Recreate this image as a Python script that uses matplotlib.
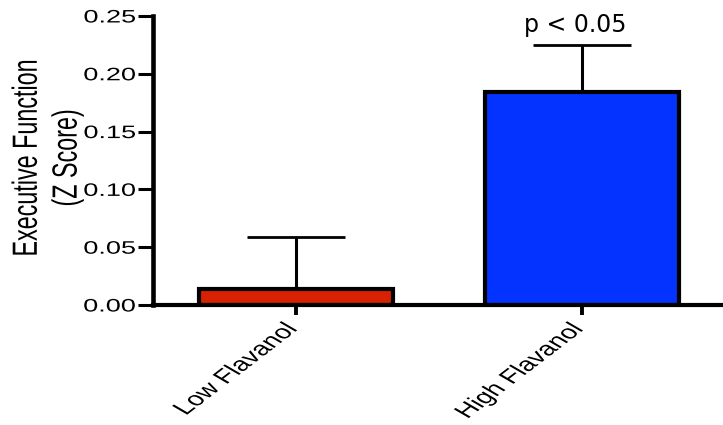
import matplotlib
matplotlib.use('Agg')
import matplotlib.pyplot as plt
import numpy as np
from matplotlib import patheffects
from matplotlib.transforms import Affine2D, ScaledTranslation

# Data
groups = ['Low Flavanol', 'High Flavanol']
means = [0.014, 0.184]
err_upper = [0.045, 0.041]
bar_colors = ['#D82100', '#0433FF']
y_ticks = [0.00, 0.05, 0.10, 0.15, 0.20, 0.25]
p_label = 'p < 0.05'

# The reference image is widened sideways, so its axis text looks stretched
STRETCH = 1.5


class Widen(patheffects.AbstractPathEffect):
    """Stretch the drawn glyphs horizontally about a point of their bbox"""
    def __init__(self, sx=STRETCH, fx=0.5):
        super().__init__()
        self.sx = sx
        self.fx = fx

    def draw_path(self, renderer, gc, tpath, affine, rgbFace=None):
        ext = tpath.get_extents(affine)
        x0 = ext.x0 + self.fx * ext.width
        wide = affine + Affine2D().translate(-x0, 0).scale(self.sx, 1).translate(x0, 0)
        renderer.draw_path(gc, tpath, wide, rgbFace)


plt.rcParams['font.family'] = ['Liberation Sans', 'DejaVu Sans']

fig = plt.figure(figsize=(7.23, 4.25), dpi=100)
ax = fig.add_axes([0.2116, 0.2824, 0.7912, 0.68])

x = np.arange(len(groups))
ax.errorbar(x, means, yerr=[[0, 0], err_upper], fmt='none', ecolor='black',
            elinewidth=2.2, capsize=35.5, capthick=2, zorder=2)
ax.bar(x, means, width=0.68, color=bar_colors, edgecolor='black',
       linewidth=3, zorder=3)

ax.set_xlim(-0.5, 1.5)
ax.set_ylim(0, 0.25)

for side in ('top', 'right'):
    ax.spines[side].set_visible(False)
ax.spines['left'].set_linewidth(3.3)
ax.spines['bottom'].set_linewidth(3)
ax.spines['bottom'].set_zorder(4)

ax.set_yticks(y_ticks, [f'{v:.2f}' for v in y_ticks])
ax.set_xticks(x, groups, rotation=49, ha='right', va='top')
ax.tick_params(axis='y', length=10.5, width=2.2, pad=2, labelsize=13)
ax.tick_params(axis='x', length=7, width=2.8, pad=4, labelsize=14)

shift = ScaledTranslation(4 / 72, 0, fig.dpi_scale_trans)
for lab in ax.get_yticklabels():
    lab.set_path_effects([Widen(fx=1.0)])
for lab in ax.get_xticklabels():
    lab.set_path_effects([Widen(fx=1.0)])
    lab.set_transform(lab.get_transform() + shift)

ax.set_ylabel('Executive Function\n(Z Score)', fontsize=16.8, linespacing=2.0)
ax.yaxis.label.set_path_effects([Widen(fx=0.5)])
ax.yaxis.set_label_coords(-0.13, 0.51)

ax.text(0.975, 0.236, p_label, ha='center', va='baseline', fontsize=17,
        family='DejaVu Sans')

fig.savefig('out.png', dpi=100)
